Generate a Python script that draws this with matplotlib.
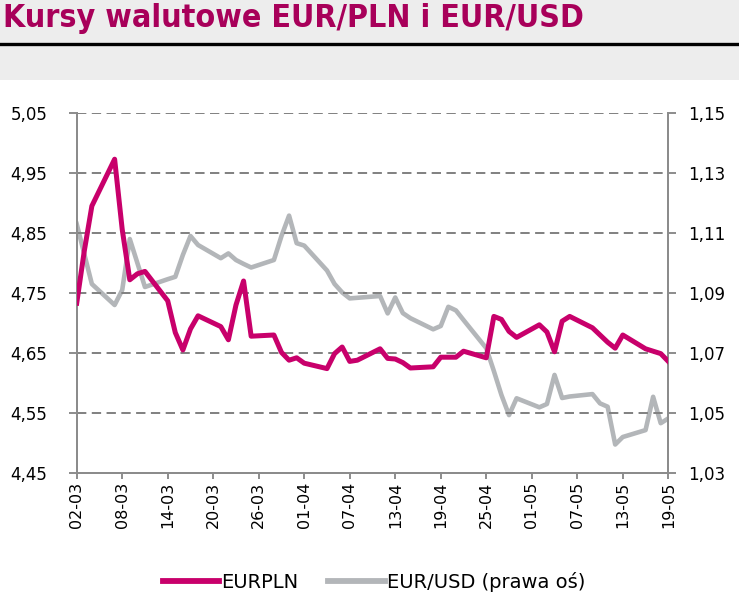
import matplotlib
matplotlib.use("Agg")
import matplotlib.pyplot as plt
import matplotlib.dates as mdates
from matplotlib.patches import Rectangle
from matplotlib.lines import Line2D
import pandas as pd

dates = pd.bdate_range("2022-03-02", "2022-05-19")

eurpln = [4.733, 4.82, 4.895, 4.973, 4.856, 4.772, 4.782, 4.786,
          4.737, 4.684, 4.655, 4.69, 4.712,
          4.694, 4.672, 4.73, 4.77, 4.678,
          4.68, 4.651, 4.638, 4.642, 4.633,
          4.624, 4.649, 4.66, 4.636, 4.638,
          4.657, 4.641, 4.64, 4.634, 4.625,
          4.627, 4.643, 4.643, 4.643, 4.653,
          4.642, 4.711, 4.706, 4.686, 4.676,
          4.697, 4.685, 4.652, 4.703, 4.711,
          4.692, 4.68, 4.668, 4.658, 4.68,
          4.657, 4.653, 4.649, 4.636]

eurusd = [1.113, 1.103, 1.093, 1.086, 1.091, 1.108, 1.100, 1.092,
          1.0946, 1.0954, 1.1027, 1.109, 1.106,
          1.1016, 1.1032, 1.101, 1.0997, 1.0985,
          1.101, 1.109, 1.1158, 1.1066, 1.1058,
          1.0975, 1.093, 1.0902, 1.0882, 1.0884,
          1.089, 1.0832, 1.0885, 1.0833, 1.0816,
          1.0779, 1.079, 1.0854, 1.0842, 1.081,
          1.0716, 1.064, 1.056, 1.0493, 1.0549,
          1.0519, 1.053, 1.0627, 1.055, 1.0555,
          1.0563, 1.0532, 1.0521, 1.0395, 1.042,
          1.0443, 1.0554, 1.0466, 1.0482]

left_ticks = [4.45, 4.55, 4.65, 4.75, 4.85, 4.95, 5.05]
right_ticks = [1.03, 1.05, 1.07, 1.09, 1.11, 1.13, 1.15]
tick_dates = pd.date_range("2022-03-02", "2022-05-19", freq="6D")

title = "Kursy walutowe EUR/PLN i EUR/USD"
labels = ["EURPLN", "EUR/USD (prawa oś)"]

pln_color = "#C8006B"
usd_color = "#B3B6B9"
axis_gray = "#8C8C8C"

W, H = 739, 606
fig = plt.figure(figsize=(W / 100, H / 100), dpi=100)

# header band
fig.patches.append(Rectangle((0, 1 - 80 / H), 1, 80 / H, transform=fig.transFigure,
                             facecolor="#EDEDED", edgecolor="none", zorder=0))
fig.lines.append(Line2D([0, 1], [1 - 44 / H, 1 - 44 / H], transform=fig.transFigure,
                        color="black", lw=2.4))
fig.text(0.004, 1 - 19 / H, title, color="#A8005A", fontsize=23, fontweight="bold",
         fontstretch="condensed",
         family=["DejaVu Sans"], va="center", ha="left")

ax = fig.add_axes([76.7 / W, 1 - 473 / H, (668.3 - 76.7) / W, 360 / H])
ax2 = ax.twinx()

ax.plot(dates, eurpln, color=pln_color, lw=3.6, solid_joinstyle="round", zorder=3)
ax2.plot(dates, eurusd, color=usd_color, lw=3.3, solid_joinstyle="round", zorder=2)

ax.set_zorder(ax2.get_zorder() + 1)
ax.patch.set_visible(False)

ax.set_ylim(4.45, 5.05)
ax2.set_ylim(1.03, 1.15)
ax.set_yticks(left_ticks)
ax2.set_yticks(right_ticks)
ax.set_yticklabels([f"{v:.2f}".replace(".", ",") for v in left_ticks], fontsize=12)
ax2.set_yticklabels([f"{v:.2f}".replace(".", ",") for v in right_ticks], fontsize=12)

ax.set_xlim(pd.Timestamp("2022-03-02"), pd.Timestamp("2022-05-19"))
ax.set_xticks(tick_dates)
ax.xaxis.set_major_formatter(mdates.DateFormatter("%d-%m"))
for lab in ax.get_xticklabels():
    lab.set_rotation(90)
    lab.set_fontsize(11.5)

for v in left_ticks[1:]:
    ax.axhline(v, color="#808080", lw=1.4, ls=(0, (4.8, 2.8)), zorder=1)

for a in (ax, ax2):
    for s in a.spines.values():
        s.set_color(axis_gray)
        s.set_linewidth(1.4)
    a.spines["top"].set_visible(False)
    a.tick_params(colors=axis_gray, labelcolor="black", width=1.4)

ax.tick_params(axis="y", length=6, pad=15)
ax2.tick_params(axis="y", length=6, pad=8)
ax.tick_params(axis="x", length=4.5, pad=2)

handles = [Line2D([], [], color=pln_color, lw=4.2), Line2D([], [], color=usd_color, lw=4.2)]
fig.legend(handles, labels, loc="center", bbox_to_anchor=(0.506, 1 - 582 / H), ncol=2,
           frameon=False, fontsize=14, handlelength=2.9, handletextpad=0.1,
           columnspacing=1.55)

fig.savefig("out.png", dpi=100)
